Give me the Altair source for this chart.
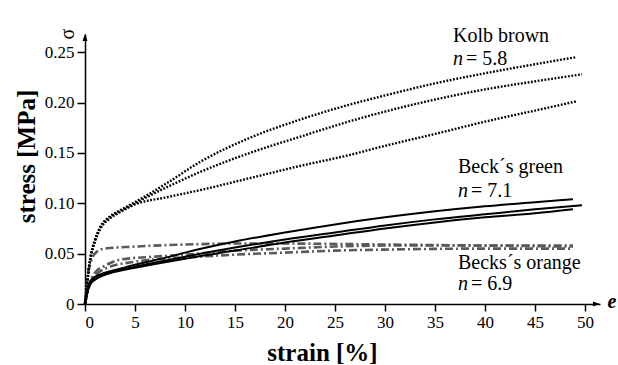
import altair as alt
import pandas as pd

# ---- data ----
kolb1_strain = [0, 0.2, 0.5, 1, 1.5, 2.5, 3.5, 4.8, 8.2, 11.5, 16.5, 21.5, 26.5, 30, 35, 40, 45, 49.1]
kolb1_stress = [0, 0.02, 0.044, 0.064, 0.076, 0.087, 0.093, 0.100, 0.120, 0.141, 0.165, 0.183, 0.198, 0.207, 0.219, 0.229, 0.238, 0.245]
kolb2_strain = [0, 0.2, 0.5, 1, 1.5, 2.5, 3.5, 4.8, 8.2, 11.5, 16.5, 21.5, 26, 30, 35.5, 40, 45, 49.7]
kolb2_stress = [0, 0.019, 0.043, 0.063, 0.075, 0.086, 0.092, 0.099, 0.116, 0.131, 0.150, 0.166, 0.180, 0.191, 0.204, 0.213, 0.221, 0.228]
kolb3_strain = [0, 0.2, 0.5, 1, 1.5, 2.5, 3.5, 4.8, 8.2, 11.5, 16.5, 21.5, 26.5, 30, 35.5, 40, 45, 49.1]
kolb3_stress = [0, 0.018, 0.042, 0.062, 0.074, 0.085, 0.091, 0.098, 0.106, 0.113, 0.125, 0.137, 0.148, 0.157, 0.170, 0.181, 0.192, 0.201]

green1_strain = [0, 0.2, 0.5, 1, 2, 3.5, 5, 8.5, 10, 15, 20, 25, 30, 35, 40, 45, 48.8]
green1_stress = [0, 0.012, 0.022, 0.027, 0.031, 0.035, 0.039, 0.047, 0.051, 0.062, 0.071, 0.079, 0.086, 0.092, 0.097, 0.101, 0.104]
green2_strain = [0, 0.2, 0.5, 1, 2, 3.5, 5, 10, 15, 20, 25, 30, 35, 40, 45, 49.7]
green2_stress = [0, 0.011, 0.020, 0.026, 0.030, 0.034, 0.037, 0.047, 0.056, 0.064, 0.071, 0.078, 0.084, 0.089, 0.094, 0.098]
green3_strain = [0, 0.2, 0.5, 1, 2, 3.5, 5, 10, 15, 20, 25, 30, 35, 40, 45, 48.8]
green3_stress = [0, 0.010, 0.019, 0.024, 0.029, 0.033, 0.036, 0.045, 0.053, 0.061, 0.068, 0.075, 0.081, 0.086, 0.090, 0.094]

orange1_strain = [0, 0.3, 0.7, 1.2, 2, 5, 10, 15, 20, 30, 40, 48.8]
orange1_stress = [0, 0.030, 0.045, 0.052, 0.055, 0.057, 0.059, 0.060, 0.060, 0.059, 0.058, 0.057]
orange2_strain = [0, 0.5, 1, 2, 3.5, 7, 10, 15, 20, 25, 30, 40, 48.8]
orange2_stress = [0, 0.022, 0.031, 0.038, 0.044, 0.047, 0.049, 0.053, 0.055, 0.057, 0.058, 0.058, 0.058]
orange3_strain = [0, 0.5, 1, 2, 5, 10, 15, 20, 25, 30, 40, 48.8]
orange3_stress = [0, 0.020, 0.028, 0.035, 0.042, 0.046, 0.049, 0.051, 0.053, 0.054, 0.055, 0.055]

x_ticks = [i * 2.5 for i in range(21)]
y_ticks = [round(i * 0.025, 3) for i in range(11)]
x_max = 51.5
y_max = 0.268

# annotation labels
labels = ["Kolb brown", "Beck\u00b4s green", "Becks\u00b4s orange"]
label_x = [36.8, 37.3, 37.3]
label_y = [0.260, 0.130, 0.035]
n_text = ["= 5.8", "= 7.1", "= 6.9"]
n_y = [0.237, 0.106, 0.0138]

SERIF = "'Liberation Serif', 'Times New Roman', Times, serif"


def frame(name, xs, ys):
    return pd.DataFrame({"curve": name, "strain": xs, "stress": ys})


kolb = pd.concat([frame("k1", kolb1_strain, kolb1_stress),
                  frame("k2", kolb2_strain, kolb2_stress),
                  frame("k3", kolb3_strain, kolb3_stress)])
green = pd.concat([frame("g1", green1_strain, green1_stress),
                   frame("g2", green2_strain, green2_stress),
                   frame("g3", green3_strain, green3_stress)])
orange = pd.concat([frame("o1", orange1_strain, orange1_stress),
                    frame("o2", orange2_strain, orange2_stress),
                    frame("o3", orange3_strain, orange3_stress)])

xscale = alt.Scale(domain=[0, x_max], nice=False, zero=False)
yscale = alt.Scale(domain=[0, y_max], nice=False, zero=False)

x_axis = alt.Axis(
    values=x_ticks,
    labelExpr="datum.value % 5 === 0 ? datum.label : ''",
    tickSize={"condition": {"test": "datum.value % 5 === 0", "value": 7}, "value": 4},
    title="strain [%]",
    titleX=237, titleY=48, titleAlign="center", titleBaseline="middle",
    grid=False,
)
y_axis = alt.Axis(
    values=y_ticks,
    labelExpr="round(datum.value*1000) % 50 === 0 ? (datum.value === 0 ? '0' : format(datum.value, '.2f')) : ''",
    tickSize={"condition": {"test": "round(datum.value*1000) % 50 === 0", "value": 8}, "value": 4},
    title="stress [MPa]",
    titleX=-59, titleY=122, titleAngle=270, titleAlign="center", titleBaseline="middle",
    grid=False,
)

X = alt.X("strain:Q", scale=xscale, axis=x_axis)
Y = alt.Y("stress:Q", scale=yscale, axis=y_axis)

kolb_layer = alt.Chart(kolb).mark_line(
    color="black", strokeWidth=2.4, strokeDash=[1.8, 1.6], interpolate="monotone"
).encode(x=X, y=Y, detail="curve:N", order="strain:Q")

green_layer = alt.Chart(green).mark_line(
    color="black", strokeWidth=2.0, interpolate="monotone"
).encode(x=X, y=Y, detail="curve:N", order="strain:Q")

orange_layer = alt.Chart(orange).mark_line(
    color="#5a5a5a", strokeWidth=2.6, strokeDash=[8, 3, 2, 3], interpolate="monotone"
).encode(x=X, y=Y, detail="curve:N", order="strain:Q")

ann = pd.DataFrame({"label": labels, "x": label_x, "y": label_y, "nt": n_text, "ny": n_y})

label_layer = alt.Chart(ann).mark_text(
    align="left", baseline="alphabetic", font=SERIF, fontSize=20, color="black"
).encode(x=alt.X("x:Q", scale=xscale), y=alt.Y("y:Q", scale=yscale), text="label:N")

n_layer = alt.Chart(ann).mark_text(
    align="left", baseline="alphabetic", font=SERIF, fontSize=20, fontStyle="italic", color="black"
).encode(x=alt.X("x:Q", scale=xscale), y=alt.Y("ny:Q", scale=yscale), text=alt.value("n"))

nval_layer = alt.Chart(ann).mark_text(
    align="left", baseline="alphabetic", font=SERIF, fontSize=20, color="black", dx=13
).encode(x=alt.X("x:Q", scale=xscale), y=alt.Y("ny:Q", scale=yscale), text="nt:N")

arrow_df = pd.DataFrame({"ax": [x_max], "ay": [0.0], "bx": [0.0], "by": [y_max]})

x_arrow = alt.Chart(arrow_df).mark_point(
    shape="M0,0 L-2,-0.7 L-2,0.7 Z", filled=True, color="black", opacity=1, size=50
).encode(x=alt.X("ax:Q", scale=xscale), y=alt.Y("ay:Q", scale=yscale))

y_arrow = alt.Chart(arrow_df).mark_point(
    shape="M0,0 L-0.7,2 L0.7,2 Z", filled=True, color="black", opacity=1, size=50
).encode(x=alt.X("bx:Q", scale=xscale), y=alt.Y("by:Q", scale=yscale))

sigma = alt.Chart(arrow_df).mark_text(
    font=SERIF, fontSize=20, angle=270, baseline="middle", align="center", dy=-17, color="black"
).encode(x=alt.X("bx:Q", scale=xscale), y=alt.Y("by:Q", scale=yscale), text=alt.value("\u03c3"))

e_label = alt.Chart(arrow_df).mark_text(
    font=SERIF, fontSize=20, fontStyle="italic", fontWeight="bold", baseline="middle",
    align="center", dx=12, dy=-2, color="black"
).encode(x=alt.X("ax:Q", scale=xscale), y=alt.Y("ay:Q", scale=yscale), text=alt.value("e"))

chart = alt.layer(
    orange_layer, green_layer, kolb_layer, label_layer, n_layer, nval_layer,
    x_arrow, y_arrow, sigma, e_label
).properties(
    width=515, height=270,
    autosize="none",
    padding={"left": 85, "top": 34, "right": 18, "bottom": 61},
    background="white",
).configure_view(stroke=None).configure_axis(
    domainColor="black", domainWidth=1.5, tickColor="black", tickWidth=1.5,
    labelFont=SERIF, labelFontSize=17, labelColor="black", labelPadding=3,
    titleFont=SERIF, titleFontSize=25, titleFontWeight="bold", titleColor="black",
)

chart.save("out.html", embed_options={"renderer": "svg", "actions": False})
